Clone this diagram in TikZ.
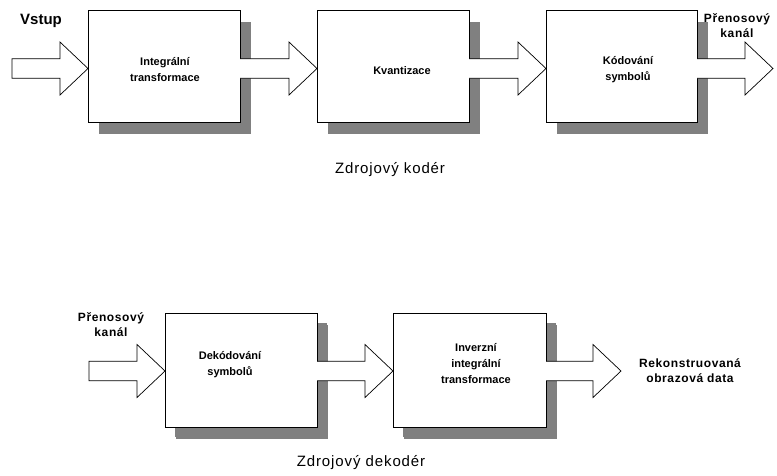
\documentclass[tikz,border=0pt]{standalone}
\usepackage{fontspec}
\setmainfont{Liberation Sans}
\usetikzlibrary{calc,shadows}
\definecolor{shadowgray}{HTML}{808080}

% Hollow block arrow: tail x from #1, tip at #2, #3 closes the tail if wanted
\newcommand\fatarrow[3]{%
  \draw[fatarrow] let \p1=#1, \p2=#2 in
    (\x1,\y2+9.75pt) -- (\x2-28pt,\y2+9.75pt) -- (\x2-28pt,\y2+26.5pt) -- (\x2,\y2)
    -- (\x2-28pt,\y2-26.5pt) -- (\x2-28pt,\y2-9.75pt) -- (\x1,\y2-9.75pt) #3;}

\begin{document}
\begin{tikzpicture}[x=1pt,y=-1pt,
  blk/.style={draw=black, fill=white, line width=0.8pt, inner sep=0pt, outer sep=0pt,
    minimum height=112pt,
    drop shadow={shadow xshift=11pt, shadow yshift=-12pt, fill=shadowgray, opacity=1}},
  fatarrow/.style={draw=black, fill=white, line width=0.7pt, line join=miter},
  lbl/.style={font=\bfseries\fontsize{11}{16}\selectfont, align=center, inner sep=0pt},
  side/.style={font=\bfseries\fontsize{12}{15.5}\selectfont\addfontfeature{LetterSpace=5}, align=center, inner sep=0pt},
  heading/.style={font=\fontsize{15}{18}\selectfont\addfontfeature{LetterSpace=6}, inner sep=0pt}]
\useasboundingbox (0,0) rectangle (777,475);

% ---- source encoder ----
\node[blk, minimum width=152pt] (b1) at (164,66) {};
\node[blk, minimum width=152pt] (b2) at (393,66) {};
\node[blk, minimum width=151pt] (b3) at (621.5,66) {};

\coordinate (vin) at (12,68.5);
\coordinate (vout) at (773,68.5);
\fatarrow{(vin)}{([yshift=-2.5pt]b1.west)}{-- cycle}
\fatarrow{(b1.east)}{([yshift=-2.5pt]b2.west)}{}
\fatarrow{(b2.east)}{([yshift=-2.5pt]b3.west)}{}
\fatarrow{(b3.east)}{(vout)}{}

\node[lbl] (t1) at (165,70) {Integrální\\transformace};
\node[lbl] (t2) at (402,71) {Kvantizace};
\node[lbl] (t3) at (628,70) {Kódování\\symbolů};

\node[font=\bfseries\fontsize{15}{18}\selectfont, inner sep=0pt] (vstup) at (41,21) {Vstup};
\node[side] (kanal1) at (737,25.5) {Přenosový\\kanál};
\node[heading] (enc) at (390,170) {Zdrojový kodér};

% ---- source decoder ----
\node[blk, minimum width=152pt, minimum height=114pt,
  drop shadow={shadow xshift=10pt, shadow yshift=-10pt, fill=shadowgray, opacity=1}] (d1) at (241,370) {};
\node[blk, minimum width=153pt, minimum height=114pt,
  drop shadow={shadow xshift=10pt, shadow yshift=-10pt, fill=shadowgray, opacity=1}] (d2) at (469.5,370) {};

\coordinate (kin) at (89,371);
\coordinate (rout) at (621,371);
\fatarrow{(kin)}{([yshift=-1pt]d1.west)}{-- cycle}
\fatarrow{(d1.east)}{([yshift=-1pt]d2.west)}{}
\fatarrow{(d2.east)}{(rout)}{}

\node[lbl] (t4) at (230,365) {Dekódování\\symbolů};
\node[lbl] (t5) at (476,364) {Inverzní\\integrální\\transformace};

\node[side] (kanal2) at (111,324.5) {Přenosový\\kanál};
\node[side] (rek) at (690,370.5) {Rekonstruovaná\\obrazová data};
\node[heading] (dec) at (361,463) {Zdrojový dekodér};
\end{tikzpicture}
\end{document}
